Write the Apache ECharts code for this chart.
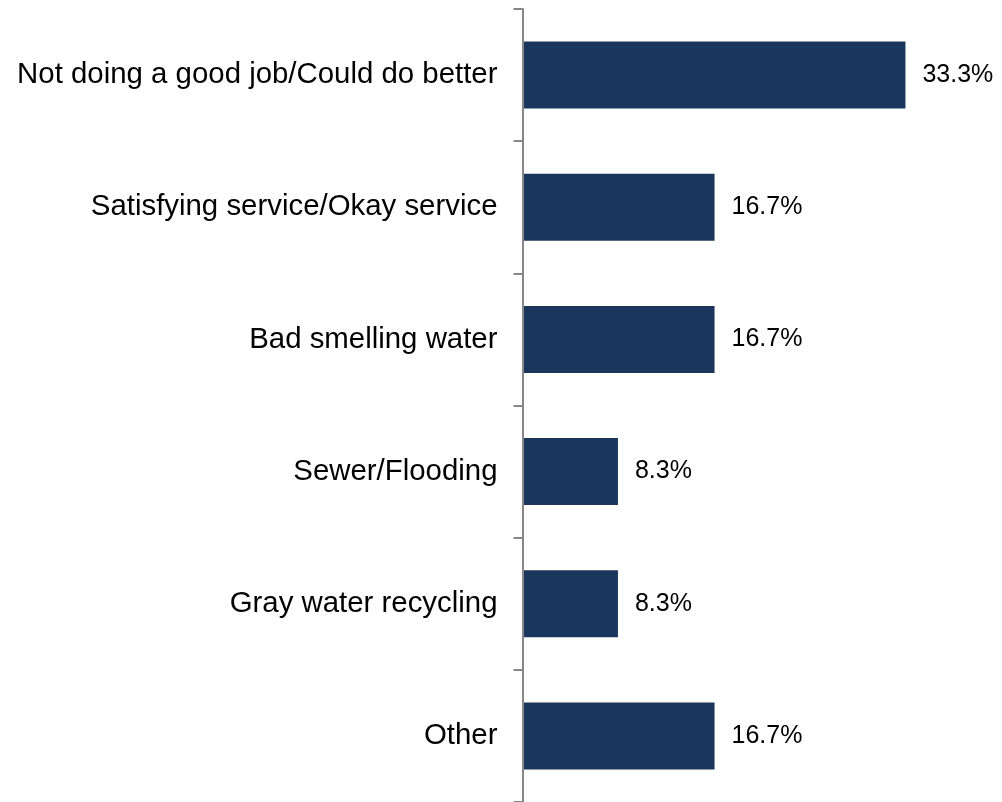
<!DOCTYPE html>
<html>
<head>
<meta charset="utf-8">
<script src="https://cdn.jsdelivr.net/npm/echarts@6/dist/echarts.min.js"></script>
<style>
  html, body { margin: 0; padding: 0; background: #ffffff; }
  #chart { width: 1002px; height: 802px; }
</style>
</head>
<body>
<div id="chart"></div>
<script>
// Survey responses, listed top to bottom
const categories = [
  'Not doing a good job/Could do better',
  'Satisfying service/Okay service',
  'Bad smelling water',
  'Sewer/Flooding',
  'Gray water recycling',
  'Other'
];
// Share of responses, in percent
const shares = [33.3, 16.7, 16.7, 8.3, 8.3, 16.7];

const chart = echarts.init(document.getElementById('chart'), null, { renderer: 'canvas' });

chart.setOption({
  animation: false,
  backgroundColor: '#ffffff',
  grid: { left: 522.5, top: 9, width: 460, height: 795, containLabel: false },
  xAxis: {
    type: 'value',
    min: 0,
    max: 40,
    show: false
  },
  yAxis: {
    type: 'category',
    data: categories,
    inverse: true,
    z: 3,
    axisLine: { show: true, lineStyle: { color: '#878787', width: 2 } },
    axisTick: { show: true, inside: false, length: 9, lineStyle: { color: '#878787', width: 2 } },
    axisLabel: {
      margin: 25,
      color: '#000000',
      fontFamily: 'Liberation Sans, Arial, sans-serif',
      fontSize: 29.4
    },
    splitLine: { show: false }
  },
  series: [{
    type: 'bar',
    data: shares,
    barWidth: 67,
    itemStyle: { color: '#1B365D' },
    label: {
      show: true,
      position: 'right',
      distance: 17,
      color: '#000000',
      fontFamily: 'Liberation Sans, Arial, sans-serif',
      fontSize: 25,
      formatter: p => p.value.toFixed(1) + '%'
    }
  }]
});
</script>
</body>
</html>
